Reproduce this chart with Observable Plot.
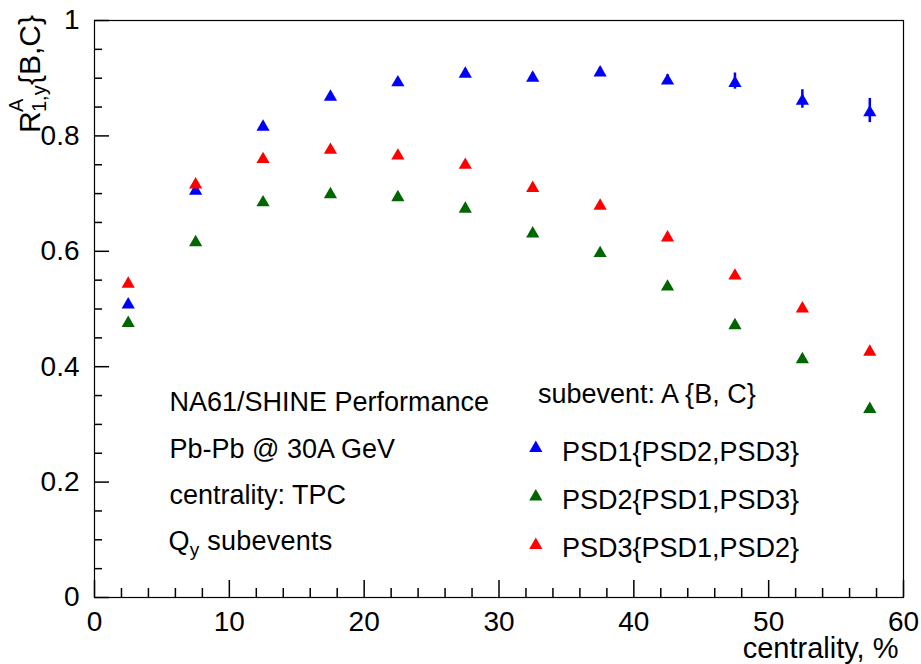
<!DOCTYPE html>
<html><head><meta charset="utf-8">
<script src="https://cdn.jsdelivr.net/npm/d3@7"></script>
<script src="https://cdn.jsdelivr.net/npm/@observablehq/plot@0.6"></script>
<style>body{margin:0;background:#fff} svg{display:block}</style>
</head><body><div id="chart"></div>
<script>
// ---- data ----
const centrality = [2.5, 7.5, 12.5, 17.5, 22.5, 27.5, 32.5, 37.5, 42.5, 47.5, 52.5, 57.5];
const psd1 = [0.511, 0.708, 0.819, 0.871, 0.896, 0.911, 0.904, 0.913, 0.899, 0.895, 0.864, 0.844];
const psd1Err = [0.004, 0.004, 0.004, 0.004, 0.004, 0.005, 0.005, 0.006, 0.007, 0.014, 0.016, 0.021];
const psd2 = [0.479, 0.619, 0.688, 0.702, 0.697, 0.677, 0.634, 0.600, 0.542, 0.475, 0.416, 0.330];
const psd3 = [0.547, 0.719, 0.763, 0.779, 0.769, 0.753, 0.713, 0.682, 0.627, 0.561, 0.504, 0.429];
const seriesNames = ["PSD1{PSD2,PSD3}", "PSD2{PSD1,PSD3}", "PSD3{PSD1,PSD2}"];
const seriesColors = ["#0000ff", "#006600", "#ff0000"];
const xMajorTicks = [0, 10, 20, 30, 40, 50, 60];
const xTickLabels = ["0", "10", "20", "30", "40", "50", "60"];
const yMajorTicks = [0, 0.2, 0.4, 0.6, 0.8, 1];
const yTickLabels = ["0", "0.2", "0.4", "0.6", "0.8", "1"];
const xTitle = "centrality, %";
const infoLines = ["NA61/SHINE Performance", "Pb-Pb @ 30A GeV", "centrality: TPC"];
const legendTitle = "subevent: A {B, C}";

// ---- build tables ----
const seriesValues = [psd1, psd2, psd3];
const points = seriesValues.flatMap((vals, s) => vals.map((v, i) => ({x: centrality[i], y: v, s})));
const errs = psd1.map((v, i) => ({x: centrality[i], lo: v - psd1Err[i], hi: v + psd1Err[i]}));
const xMinor = d3.range(0, 60.001, 2).filter(d => d % 10 !== 0);
const yMinor = d3.range(0, 1.0001, 0.05).map(d => +d.toFixed(2)).filter(d => Math.abs(d / 0.2 - Math.round(d / 0.2)) > 1e-6);

const font = "'Liberation Sans', Arial, Helvetica, sans-serif";
const M = {left: 94, right: 18, top: 20, bottom: 67};
const R = 4.9;
const LS = "0.25px";

const marks = [
  Plot.frame({stroke: "#000", strokeWidth: 1.2}),
  Plot.axisX(xMinor, {tickSize: -9, tickFormat: () => "", label: null, strokeWidth: 1.5, stroke: "#000"}),
  Plot.axisX(xMajorTicks, {tickSize: -17, tickPadding: 31, label: null, strokeWidth: 1.5, stroke: "#000",
    tickFormat: d => xTickLabels[xMajorTicks.indexOf(d)], fontSize: 28, fill: "#000"}),
  Plot.axisY(yMinor, {tickSize: -8, tickFormat: () => "", label: null, strokeWidth: 1.5, stroke: "#000"}),
  Plot.axisY(yMajorTicks, {tickSize: -15, tickPadding: 30, label: null, strokeWidth: 1.5, stroke: "#000",
    tickFormat: d => yTickLabels[yMajorTicks.indexOf(d)], fontSize: 28, fill: "#000"}),
  Plot.ruleX(errs, {x: "x", y1: "lo", y2: "hi", stroke: seriesColors[0], strokeWidth: 2.5}),
  Plot.dot(points, {x: "x", y: "y", symbol: "triangle", r: R, fill: d => seriesColors[d.s], stroke: null, dy: 2}),
  Plot.text([xTitle], {text: d => d, frameAnchor: "bottom-right", textAnchor: "end", lineAnchor: "bottom",
    dy: 60, dx: -5, fontSize: 29, fill: "#000", letterSpacing: "0.4px"}),
  ...infoLines.map((t, i) => Plot.text([t], {text: d => d, frameAnchor: "top-left", textAnchor: "start",
    lineAnchor: "bottom", dx: 75, dy: [390, 437, 483][i], fontSize: 27, fill: "#000", letterSpacing: LS})),
  Plot.text([legendTitle], {text: d => d, frameAnchor: "top-left", textAnchor: "start", lineAnchor: "bottom",
    dx: 443.5, dy: 382, fontSize: 27, fill: "#000", letterSpacing: LS}),
  ...seriesNames.map((t, i) => Plot.text([t], {text: d => d, frameAnchor: "top-left", textAnchor: "start",
    lineAnchor: "bottom", dx: 467.5, dy: [440, 488.5, 536.5][i], fontSize: 27, fill: "#000", letterSpacing: LS})),
  ...seriesNames.map((t, i) => Plot.dot([t], {x: null, y: null, frameAnchor: "top-left", symbol: "triangle", r: R,
    fill: seriesColors[i], stroke: null, dx: 441.3, dy: [427.7, 476.2, 524.7][i]}))
];

const svg = Plot.plot({
  width: 921, height: 664,
  marginLeft: M.left, marginRight: M.right, marginTop: M.top, marginBottom: M.bottom,
  style: {fontFamily: font, background: "#fff", color: "#000", overflow: "visible"},
  x: {domain: [0, 60]},
  y: {domain: [0, 1]},
  marks
});

// rich-text pieces (sub/superscripts)
const s = d3.select(svg);
const q = s.append("text").attr("x", 168.5).attr("y", 550).attr("text-anchor", "start")
  .attr("font-family", font).attr("font-size", 27).attr("letter-spacing", LS).attr("fill", "#000");
q.append("tspan").text("Q");
q.append("tspan").attr("font-size", 19).attr("dy", 6).text("y");
q.append("tspan").attr("dy", -6).text(" subevents");

const yl = s.append("text").attr("transform", "translate(40,133) rotate(-90)").attr("text-anchor", "start")
  .attr("font-family", font).attr("font-size", 30).attr("fill", "#000");
yl.append("tspan").attr("x", 0).attr("y", 0).text("R");
yl.append("tspan").attr("x", 21).attr("y", -17).attr("font-size", 20).text("A");
yl.append("tspan").attr("x", 21).attr("y", 6).attr("font-size", 20).text("1,y");
yl.append("tspan").attr("x", 48).attr("y", 0).text("{B,C}");

document.getElementById("chart").appendChild(svg);
</script>
</body></html>
